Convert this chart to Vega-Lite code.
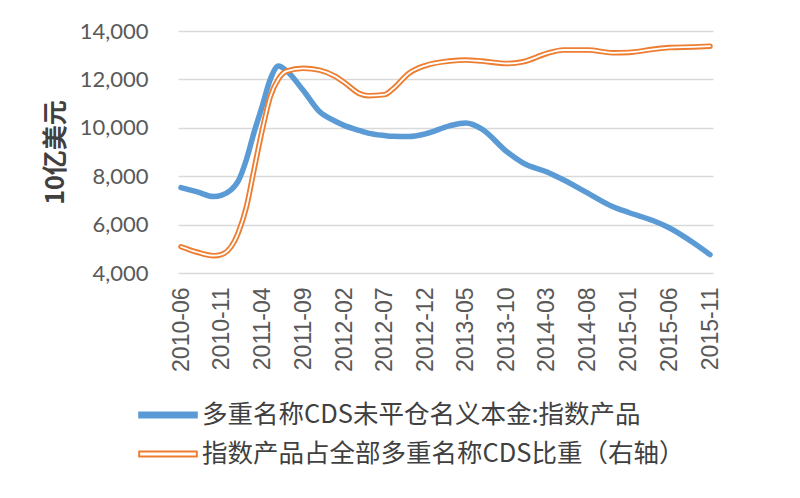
{
  "$schema": "https://vega.github.io/schema/vega-lite/v6.json",
  "width": 535,
  "height": 242,
  "autosize": {"type": "none"},
  "padding": {"left": 178, "top": 31, "right": 87, "bottom": 225},
  "background": "white",
  "config": {"view": {"stroke": null}, "font": "Lato"},
  "data": {
    "values": [
      {"date": "2010/06/01", "notional": 7530, "share": 0.638},
      {"date": "2010/08/01", "notional": 7350, "share": 0.630},
      {"date": "2010/10/01", "notional": 7160, "share": 0.625},
      {"date": "2010/11/01", "notional": 7220, "share": 0.627},
      {"date": "2011/01/01", "notional": 7800, "share": 0.658},
      {"date": "2011/02/01", "notional": 8700, "share": 0.696},
      {"date": "2011/03/01", "notional": 9800, "share": 0.749},
      {"date": "2011/04/01", "notional": 10900, "share": 0.807},
      {"date": "2011/05/01", "notional": 12000, "share": 0.855},
      {"date": "2011/06/01", "notional": 12550, "share": 0.881},
      {"date": "2011/07/01", "notional": 12350, "share": 0.892},
      {"date": "2011/09/01", "notional": 11550, "share": 0.896},
      {"date": "2011/11/01", "notional": 10670, "share": 0.8935},
      {"date": "2012/01/01", "notional": 10260, "share": 0.884},
      {"date": "2012/02/01", "notional": 10100, "share": 0.876},
      {"date": "2012/04/01", "notional": 9880, "share": 0.859},
      {"date": "2012/05/01", "notional": 9780, "share": 0.8565},
      {"date": "2012/07/01", "notional": 9680, "share": 0.858},
      {"date": "2012/08/01", "notional": 9650, "share": 0.866},
      {"date": "2012/10/01", "notional": 9640, "share": 0.889},
      {"date": "2012/12/01", "notional": 9750, "share": 0.900},
      {"date": "2013/03/01", "notional": 10080, "share": 0.9065},
      {"date": "2013/05/01", "notional": 10200, "share": 0.908},
      {"date": "2013/07/01", "notional": 9950, "share": 0.9065},
      {"date": "2013/10/01", "notional": 9020, "share": 0.903},
      {"date": "2013/12/01", "notional": 8550, "share": 0.9055},
      {"date": "2014/03/01", "notional": 8170, "share": 0.9175},
      {"date": "2014/05/01", "notional": 7850, "share": 0.9225},
      {"date": "2014/08/01", "notional": 7300, "share": 0.9225},
      {"date": "2014/11/01", "notional": 6750, "share": 0.9185},
      {"date": "2015/01/01", "notional": 6500, "share": 0.919},
      {"date": "2015/04/01", "notional": 6170, "share": 0.9235},
      {"date": "2015/06/01", "notional": 5870, "share": 0.926},
      {"date": "2015/09/01", "notional": 5240, "share": 0.927},
      {"date": "2015/11/01", "notional": 4760, "share": 0.928}
    ]
  },
  "encoding": {
    "x": {
      "field": "date",
      "type": "temporal",
      "scale": {
        "domain": [{"year": 2010, "month": 6, "date": 1}, {"year": 2015, "month": 11, "date": 1}],
        "padding": 3
      },
      "axis": {
        "values": [
          {"year": 2010, "month": 6, "date": 1},
          {"year": 2010, "month": 11, "date": 1},
          {"year": 2011, "month": 4, "date": 1},
          {"year": 2011, "month": 9, "date": 1},
          {"year": 2012, "month": 2, "date": 1},
          {"year": 2012, "month": 7, "date": 1},
          {"year": 2012, "month": 12, "date": 1},
          {"year": 2013, "month": 5, "date": 1},
          {"year": 2013, "month": 10, "date": 1},
          {"year": 2014, "month": 3, "date": 1},
          {"year": 2014, "month": 8, "date": 1},
          {"year": 2015, "month": 1, "date": 1},
          {"year": 2015, "month": 6, "date": 1},
          {"year": 2015, "month": 11, "date": 1}
        ],
        "format": "%Y-%m",
        "labelAngle": -90,
        "labelFont": "Liberation Sans",
        "labelFontSize": 23,
        "labelColor": "#595959",
        "labelPadding": 14,
        "labelOverlap": false,
        "labelFlush": false,
        "ticks": false,
        "domain": false,
        "grid": false,
        "title": null
      }
    }
  },
  "layer": [
    {
      "mark": {"type": "line", "interpolate": "monotone", "strokeWidth": 5.5, "strokeCap": "round"},
      "encoding": {
        "y": {
          "field": "notional",
          "type": "quantitative",
          "scale": {"domain": [4000, 14000]},
          "axis": {
            "values": [4000, 6000, 8000, 10000, 12000, 14000],
            "format": ",d",
            "title": "10亿美元",
            "titleFont": "Noto Sans CJK SC",
            "titleFontWeight": "bold",
            "titleFontSize": 25,
            "titleColor": "#404040",
            "titlePadding": 11,
            "labelFontSize": 22,
            "labelColor": "#595959",
            "labelPadding": 30,
            "ticks": false,
            "domain": false,
            "grid": true,
            "gridColor": "#D9D9D9",
            "gridWidth": 1.5
          }
        },
        "color": {
          "datum": "多重名称CDS未平仓名义本金:指数产品",
          "type": "nominal",
          "scale": {
            "domain": ["多重名称CDS未平仓名义本金:指数产品", "指数产品占全部多重名称CDS比重（右轴）"],
            "range": ["#5B9BD5", "#ED7D31"]
          },
          "legend": {
            "orient": "none",
            "legendX": -35,
            "legendY": 359,
            "direction": "vertical",
            "title": null,
            "symbolType": "M-1.2,-0.1H1.2V0.1H-1.2Z",
            "symbolSize": 2304,
            "symbolStrokeWidth": 2,
            "labelFont": "Noto Sans CJK SC",
            "labelFontSize": 25.5,
            "labelColor": "#404040",
            "labelLimit": 700,
            "labelOffset": 9,
            "rowPadding": 0,
            "padding": 0,
            "symbolOpacity": 1,
            "encode": {
              "symbols": {
                "update": {
                  "fill": {"signal": "datum.value === '指数产品占全部多重名称CDS比重（右轴）' ? 'white' : '#5B9BD5'"},
                  "fillOpacity": {"value": 1}
                }
              }
            }
          }
        }
      }
    },
    {
      "layer": [
        {
          "mark": {"type": "line", "interpolate": "monotone", "strokeWidth": 5.5, "strokeCap": "round"},
          "encoding": {
            "y": {
              "field": "share",
              "type": "quantitative",
              "scale": {"domain": [0.6, 0.95]},
              "axis": {
                "orient": "right",
                "values": [0.6, 0.65, 0.7, 0.75, 0.8, 0.85, 0.9, 0.95],
                "format": ".2~f",
                "labelFontSize": 22,
                "labelColor": "#595959",
                "labelPadding": 25,
                "ticks": false,
                "domain": false,
                "grid": false,
                "title": null
              }
            },
            "color": {"datum": "指数产品占全部多重名称CDS比重（右轴）", "type": "nominal"}
          }
        },
        {
          "mark": {"type": "line", "interpolate": "monotone", "strokeWidth": 1.8, "color": "white", "strokeCap": "round"},
          "encoding": {
            "y": {"field": "share", "type": "quantitative", "axis": null}
          }
        }
      ]
    }
  ],
  "resolve": {"scale": {"y": "independent"}}
}
